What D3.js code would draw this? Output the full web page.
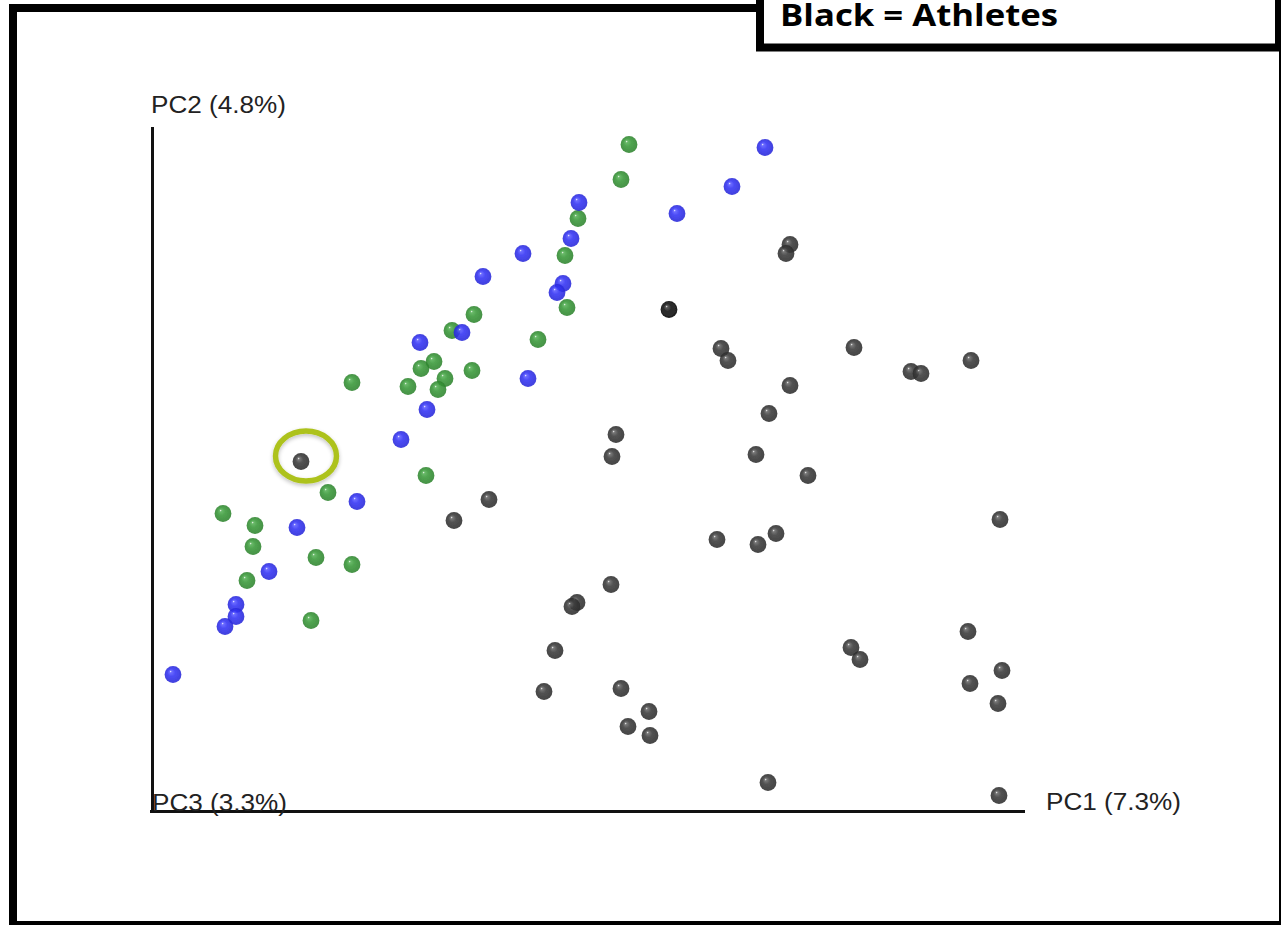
<!DOCTYPE html>
<html>
<head>
<meta charset="utf-8">
<script src="https://cdn.jsdelivr.net/npm/d3@7"></script>
<style>
  html, body { margin: 0; padding: 0; background: #fff; }
  svg { display: block; }
</style>
</head>
<body>
<svg id="chart" width="1281" height="925"></svg>
<script>
// PCoA scores (PC1, PC2) per sample
const blueSamples = [
  [0.213, 0.364], [0.180, 0.325], [0.125, 0.298], [0.027, 0.309], [0.019, 0.273],
  [-0.029, 0.258], [-0.069, 0.235], [0.011, 0.228], [0.005, 0.219], [-0.090, 0.179],
  [-0.132, 0.169], [-0.024, 0.133], [-0.125, 0.102], [-0.151, 0.072], [-0.195, 0.010],
  [-0.255, -0.016], [-0.283, -0.060], [-0.316, -0.093], [-0.316, -0.105], [-0.327, -0.115],
  [-0.379, -0.163]
];
const greenSamples = [
  [0.077, 0.367], [0.069, 0.332], [0.026, 0.293], [0.013, 0.256], [0.015, 0.204],
  [-0.078, 0.197], [-0.100, 0.181], [-0.014, 0.172], [-0.118, 0.150], [-0.131, 0.143],
  [-0.080, 0.141], [-0.200, 0.129], [-0.107, 0.133], [-0.144, 0.125], [-0.114, 0.122],
  [-0.126, 0.036], [-0.224, 0.019], [-0.329, -0.002], [-0.297, -0.014], [-0.299, -0.035],
  [-0.236, -0.046], [-0.200, -0.053], [-0.305, -0.069], [-0.241, -0.109]
];
const athleteSamples = [
  [0.238, 0.267], [0.234, 0.258], [0.169, 0.163], [0.176, 0.151], [0.302, 0.164],
  [0.359, 0.140], [0.369, 0.138], [0.419, 0.151], [0.238, 0.126], [0.217, 0.098],
  [0.064, 0.077], [0.060, 0.055], [0.204, 0.057], [-0.251, 0.050], [0.256, 0.036],
  [-0.063, 0.012], [-0.098, -0.009], [0.448, -0.008], [0.165, -0.028], [0.206, -0.033],
  [0.224, -0.022], [0.059, -0.073], [0.025, -0.091], [0.020, -0.095], [0.003, -0.139],
  [-0.008, -0.180], [0.416, -0.120], [0.299, -0.136], [0.308, -0.148], [0.450, -0.159],
  [0.418, -0.172], [0.446, -0.192], [0.069, -0.177], [0.097, -0.200], [0.076, -0.215],
  [0.098, -0.224], [0.216, -0.271], [0.447, -0.284]
];
// one athlete drawn in solid black
const athleteOutlier = [[0.117, 0.202]];
// athlete sample that is ringed
const highlighted = [-0.251, 0.050];

const axisLabels = { x: "PC1 (7.3%)", y: "PC2 (4.8%)", z: "PC3 (3.3%)" };
const legendText = "Black = Athletes";

const svg = d3.select("#chart");
const defs = svg.append("defs");

// glossy sphere gradients
function sphere(id, light, base, dark) {
  const g = defs.append("radialGradient").attr("id", id)
    .attr("cx", "50%").attr("cy", "50%").attr("r", "50%")
    .attr("fx", "34%").attr("fy", "30%");
  g.append("stop").attr("offset", "0%").attr("stop-color", "#ffffff");
  g.append("stop").attr("offset", "14%").attr("stop-color", light);
  g.append("stop").attr("offset", "45%").attr("stop-color", base);
  g.append("stop").attr("offset", "100%").attr("stop-color", dark);
}
sphere("gBlue", "#5a5aff", "#3232f4", "#2828d8");
sphere("gGreen", "#56b056", "#389838", "#2d832d");
sphere("gGrey", "#666", "#3a3a3a", "#2c2c2c");
sphere("gBlack", "#444", "#0e0e0e", "#050505");

defs.append("filter").attr("id", "soft")
  .append("feGaussianBlur").attr("stdDeviation", 0.5);
const shadow = defs.append("filter").attr("id", "ringShadow")
  .attr("x", "-30%").attr("y", "-30%").attr("width", "160%").attr("height", "160%");
shadow.append("feGaussianBlur").attr("in", "SourceAlpha").attr("stdDeviation", 2).attr("result", "b");
shadow.append("feOffset").attr("dy", 2).attr("result", "o");
shadow.append("feComponentTransfer").append("feFuncA").attr("type", "linear").attr("slope", 0.25);
const m = shadow.append("feMerge");
m.append("feMergeNode");
m.append("feMergeNode").attr("in", "SourceGraphic");

// scales
const x = d3.scaleLinear().domain([-0.4, 0.473]).range([152, 1025]);
const y = d3.scaleLinear().domain([-0.3, 0.385]).range([811.5, 126.5]);

// outer frame
svg.append("rect").attr("x", 13).attr("y", 8).attr("width", 1270).attr("height", 917)
  .attr("fill", "#fff").attr("stroke", "#000").attr("stroke-width", 8);

// axes (lines only)
const axisX = svg.append("g").attr("transform", `translate(0,${y(-0.3)})`)
  .call(d3.axisBottom(x).tickValues([]).tickSizeOuter(0));
const axisY = svg.append("g").attr("transform", `translate(${x(-0.4)},0)`)
  .call(d3.axisLeft(y).tickValues([]).tickSizeOuter(0));
[axisX, axisY].forEach(a => a.select(".domain").attr("stroke", "#111").attr("stroke-width", 3));
axisX.select(".domain").attr("d", `M${x(-0.4) - 2},0H${x(0.473)}`);

// axis labels
const labelFont = "'Liberation Sans', Arial, sans-serif";
function label(txt, lx, ly) {
  svg.append("text").attr("x", lx).attr("y", ly).text(txt)
    .attr("font-family", labelFont).attr("font-size", 23).attr("fill", "#222")
    .attr("textLength", 135).attr("lengthAdjust", "spacingAndGlyphs");
}
label(axisLabels.y, 151, 112.5);
label(axisLabels.z, 152, 810.5);
label(axisLabels.x, 1046, 810);

// samples
function drawGroup(data, fill) {
  svg.append("g").attr("filter", "url(#soft)")
    .selectAll("circle").data(data).join("circle")
    .attr("cx", d => x(d[0])).attr("cy", d => y(d[1]))
    .attr("r", 8.4)
    .attr("fill", `url(#${fill})`)
    .attr("fill-opacity", 0.88);
}
drawGroup(athleteSamples, "gGrey");
drawGroup(athleteOutlier, "gBlack");
drawGroup(greenSamples, "gGreen");
drawGroup(blueSamples, "gBlue");

// ring around the highlighted athlete
svg.append("ellipse")
  .attr("cx", x(highlighted[0]) + 5).attr("cy", y(highlighted[1]) - 5.5)
  .attr("rx", 30.5).attr("ry", 25)
  .attr("fill", "none").attr("stroke", "#adc21f").attr("stroke-width", 5.5)
  .attr("filter", "url(#ringShadow)");

// legend box
svg.append("rect").attr("x", 760).attr("y", -20).attr("width", 519).attr("height", 67.5)
  .attr("fill", "#fff").attr("stroke", "#000").attr("stroke-width", 8);
svg.append("text").attr("x", 780).attr("y", 26).text(legendText)
  .attr("font-family", "'Open Sans', 'Noto Sans', sans-serif").attr("font-weight", 700)
  .attr("font-size", 31).attr("fill", "#000")
  .attr("textLength", 278).attr("lengthAdjust", "spacingAndGlyphs");
</script>
</body>
</html>
